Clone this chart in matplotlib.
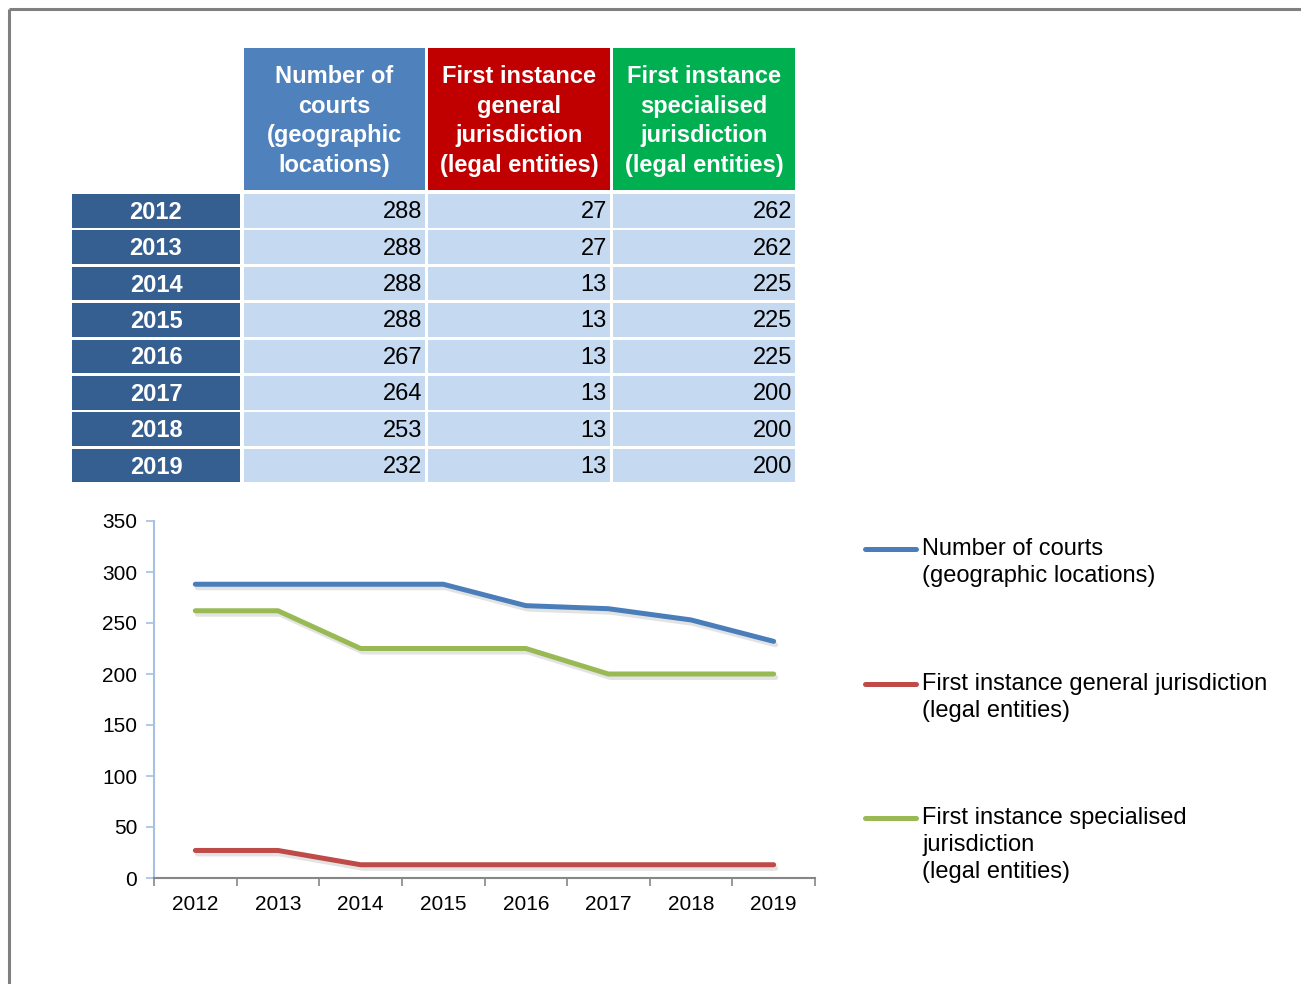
import matplotlib
matplotlib.use("Agg")
import matplotlib.pyplot as plt
from matplotlib.patches import Rectangle
from matplotlib.lines import Line2D
import matplotlib.patheffects as pe

plt.rcParams['font.family'] = ['Liberation Sans', 'DejaVu Sans']

years = ['2012', '2013', '2014', '2015', '2016', '2017', '2018', '2019']
courts = [288, 288, 288, 288, 267, 264, 253, 232]
general = [27, 27, 13, 13, 13, 13, 13, 13]
specialised = [262, 262, 225, 225, 225, 200, 200, 200]

headers = ['Number of\ncourts\n(geographic\nlocations)',
           'First instance\ngeneral\njurisdiction\n(legal entities)',
           'First instance\nspecialised\njurisdiction\n(legal entities)']
legend_labels = ['Number of courts\n(geographic locations)',
                 'First instance general jurisdiction\n(legal entities)',
                 'First instance specialised\njurisdiction\n(legal entities)']
series = [courts, general, specialised]
line_colors = ['#4A7EBB', '#BE4B48', '#98B954']
header_colors = ['#4F81BD', '#C00000', '#00B050']

W, H = 1301, 984
fig = plt.figure(figsize=(W / 100, H / 100), dpi=100)

# overlay axes in pixel coords
ov = fig.add_axes([0, 0, 1, 1])
ov.set_xlim(0, W)
ov.set_ylim(H, 0)
ov.axis('off')

# frame
ov.plot([9, 9], [H + 5, 9], color='#808080', lw=2.2, solid_capstyle='butt')
ov.plot([9, W + 5], [9, 9], color='#808080', lw=2.2, solid_capstyle='butt')

# table
col_x = [(244, 425), (428, 610), (613, 795)]
year_x = (72, 240)
head_y = (48, 190)
row_top0 = 194
row_step = 36.4
row_h = 33.5

for j, (x0, x1) in enumerate(col_x):
    ov.add_patch(Rectangle((x0, head_y[0]), x1 - x0, head_y[1] - head_y[0],
                           facecolor=header_colors[j], edgecolor='none'))
    ov.text((x0 + x1) / 2, (head_y[0] + head_y[1]) / 2 + 2, headers[j],
            ha='center', va='center', color='white', fontsize=17,
            fontweight='bold', linespacing=1.36)

for i, yr in enumerate(years):
    y0 = row_top0 + i * row_step
    ov.add_patch(Rectangle((year_x[0], y0), year_x[1] - year_x[0], row_h,
                           facecolor='#365F91', edgecolor='none'))
    ov.text((year_x[0] + year_x[1]) / 2, y0 + row_h / 2 + 1.5, yr,
            ha='center', va='center', color='white', fontsize=17,
            fontweight='bold')
    for j, (x0, x1) in enumerate(col_x):
        ov.add_patch(Rectangle((x0, y0), x1 - x0, row_h,
                               facecolor='#C5D9F1', edgecolor='none'))
        ov.text(x1 - 3, y0 + row_h / 2 + 1.5, str(series[j][i]),
                ha='right', va='center', color='black', fontsize=17)

# chart
ax = fig.add_axes([154 / W, 1 - 878 / H, (815 - 154) / W, (878 - 521) / H])
xs = list(range(len(years)))
for s, c in zip(series, line_colors):
    ax.plot(xs, s, color=c, lw=3.6, solid_capstyle='round',
            solid_joinstyle='round',
            path_effects=[pe.SimpleLineShadow(offset=(1.5, -2.5),
                                              shadow_color='#909090', alpha=0.25),
                          pe.Normal()])
ax.set_xlim(-0.5, len(years) - 0.5)
ax.set_ylim(0, 350)
ax.set_yticks(range(0, 351, 50))
ax.set_xticks([x - 0.5 for x in range(len(years) + 1)])
ax.set_xticklabels([])
ax.set_xticks(xs, minor=True)
ax.set_xticklabels(years, minor=True)
ax.tick_params(axis='x', which='major', direction='out', length=6,
               color='#868686', width=1.2)
ax.tick_params(axis='x', which='minor', length=0, labelsize=15, pad=12)
ax.tick_params(axis='y', direction='out', length=6, color='#A7C0E4',
               width=1.2, labelsize=15, pad=6)
for sp in ['top', 'right']:
    ax.spines[sp].set_visible(False)
ax.spines['left'].set_color('#A7C0E4')
ax.spines['left'].set_linewidth(1.5)
ax.spines['bottom'].set_color('#868686')
ax.spines['bottom'].set_linewidth(1.5)
ax.patch.set_alpha(0)

# legend
leg_y = [549, 684, 818]
for lab, c, y in zip(legend_labels, line_colors, leg_y):
    ov.add_line(Line2D([865, 916], [y, y], color=c, lw=3.6,
                       solid_capstyle='round'))
    ov.text(922, y - 11, lab, ha='left', va='top', fontsize=17,
            color='black', linespacing=1.28)

fig.savefig('out.png', dpi=100)
